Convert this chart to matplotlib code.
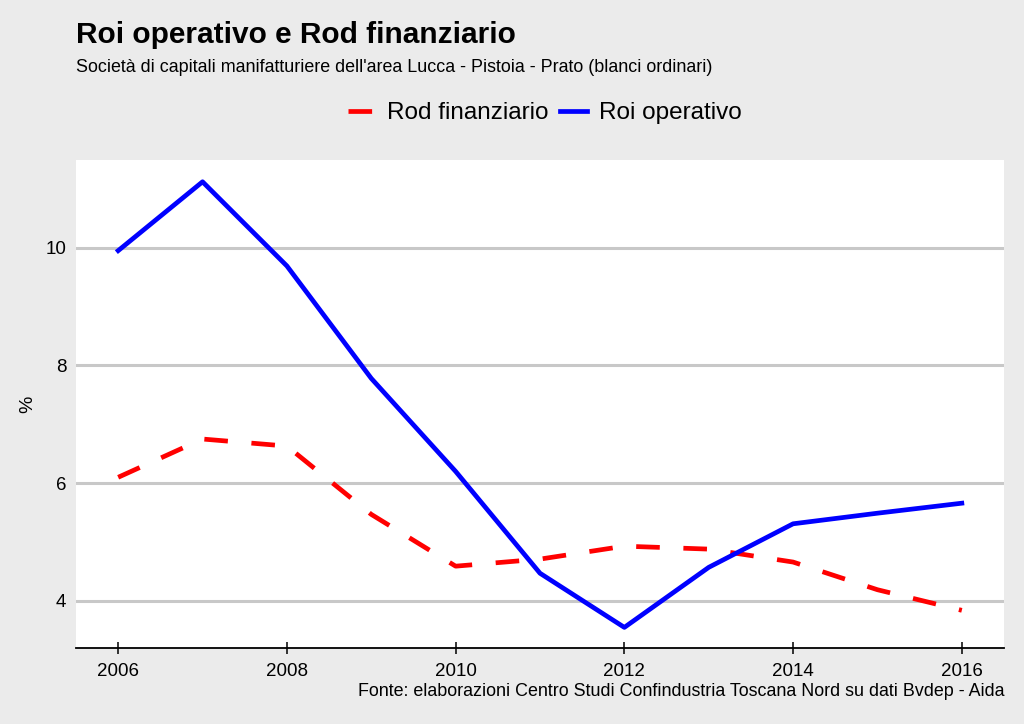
import matplotlib
matplotlib.use("Agg")
import matplotlib.pyplot as plt

years = [2006, 2007, 2008, 2009, 2010, 2011, 2012, 2013, 2014, 2015, 2016]
roi_operativo = [9.95, 11.12, 9.69, 7.78, 6.20, 4.47, 3.55, 4.57, 5.31, 5.49, 5.66]
rod_finanziario = [6.10, 6.75, 6.63, 5.47, 4.59, 4.71, 4.93, 4.88, 4.66, 4.19, 3.84]
x_ticks = [2006, 2008, 2010, 2012, 2014, 2016]
y_ticks = [4, 6, 8, 10]

plt.rcParams['font.family'] = ['Liberation Sans', 'DejaVu Sans']
bg = '#ebebeb'

fig = plt.figure(figsize=(10.24, 7.24), dpi=100, facecolor=bg)
ax = fig.add_axes([76/1024, 1-648/724, (1004-76)/1024, (648-160)/724])
ax.set_facecolor('white')

ax.set_xlim(2005.5, 2016.5)
ax.set_ylim(3.2, 11.49)
ax.set_yticks(y_ticks)
ax.set_xticks(x_ticks)
ax.yaxis.grid(True, color='#c8c8c8', linewidth=2.2)
ax.set_axisbelow(True)

ln_rod, = ax.plot(years, rod_finanziario, color='#ff0000', linewidth=3.4,
                  dashes=(5.0, 5.0), label='Rod finanziario', dash_capstyle='butt')
ln_roi, = ax.plot(years, roi_operativo, color='#0000ff', linewidth=3.4,
                  label='Roi operativo')

for s in ['top', 'right', 'left']:
    ax.spines[s].set_visible(False)
ax.spines['bottom'].set_color('black')
ax.spines['bottom'].set_linewidth(1.3)
ax.tick_params(axis='y', length=0, pad=7, labelsize=13.5)
ax.tick_params(axis='x', length=8, width=1.1, direction='inout', pad=7, labelsize=13.5)
ax.set_ylabel('%', fontsize=14)
ax.yaxis.set_label_coords((36-76)/928, 0.5)

fig.text(76/1024, 1-35/724, 'Roi operativo e Rod finanziario', fontsize=21.5,
         fontweight='bold', va='center', ha='left')
fig.text(76/1024, 1-67/724,
         "Società di capitali manifatturiere dell'area Lucca - Pistoia - Prato (blanci ordinari)",
         fontsize=12.9, va='center', ha='left')
fig.text(1004/1024, 1-691/724,
         'Fonte: elaborazioni Centro Studi Confindustria Toscana Nord su dati Bvdep - Aida',
         fontsize=12.9, va='center', ha='right')

leg = fig.legend(handles=[ln_rod, ln_roi], loc='center', bbox_to_anchor=(545/1024, 1-113/724),
                 ncol=2, frameon=False, fontsize=17.5, handlelength=1.1, columnspacing=0.5,
                 handletextpad=0.5)

fig.savefig('out.png', dpi=100, facecolor=bg)
